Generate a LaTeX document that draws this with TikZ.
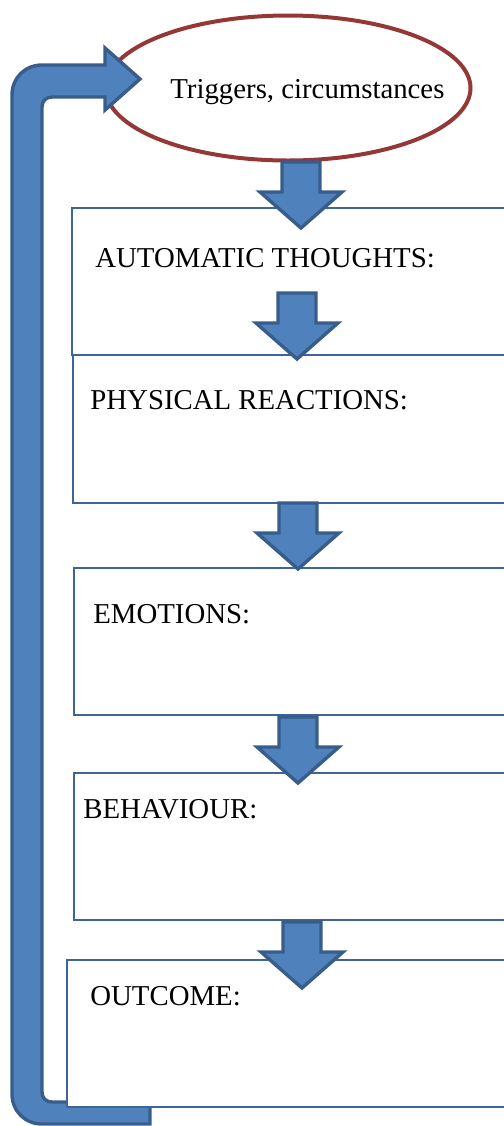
\documentclass[tikz,border=0pt]{standalone}
\usepackage{fontspec}
\setmainfont{Liberation Serif}
\usepackage{tikz}
\usetikzlibrary{shapes.geometric}

\definecolor{arrowblue}{HTML}{4F81BD}
\definecolor{arrowedge}{HTML}{385D8A}
\definecolor{boxedge}{HTML}{3F6597}
\definecolor{ovalred}{HTML}{953735}

\begin{document}
\begin{tikzpicture}[x=0.5pt, y=-0.5pt,
    box/.style={rectangle, draw=boxedge, line width=1pt, fill=white, anchor=north west,
        inner sep=0pt, outer sep=0pt, minimum width=230pt, minimum height=73.5pt},
    lbl/.style={anchor=base west, inner sep=0pt, font=\fontsize{14.4}{17}\selectfont},
    bigarrow/.style={draw=arrowedge, fill=arrowblue, line width=1.7pt, line join=miter},
    downarr/.pic={\draw[bigarrow] (-19,0) -- (19,0) -- (19,30) -- (41,30) -- (0,66)
        -- (-41,30) -- (-19,30) -- cycle;}
]
                    \path[use as bounding box, clip] (0,0) rectangle (504,1126);
                    % Oval
                    \node[ellipse, draw=ovalred, line width=2pt, fill=white, inner sep=0pt,
                        minimum width=182.5pt, minimum height=72.5pt] (oval) at (288,88) {};
                    \node[lbl] (trig) at (170,98) {Triggers, circumstances};
                    % Loop back
                    \draw[bigarrow] (150,1124) -- (42,1124) .. controls (25,1124) and (12,1111) .. (12,1094)
                        -- (12,95) .. controls (12,78) and (25,65) .. (42,65) -- (105,65) -- (105,48)
                        -- (140,79) -- (105,110) -- (105,97) -- (52,97) .. controls (46,97) and (42,101) .. (42,107)
                        -- (42,1092) .. controls (42,1098) and (46,1102) .. (52,1102) -- (150,1102) -- cycle;
                    % Boxes
                    \node[box] (thoughts) at (72,208) {};
                    \node[box, minimum height=74pt] (physical) at (73,355) {};
                    \node[box] (emotions) at (74,568) {};
                    \node[box] (behaviour) at (74,773) {};
                    \node[box] (outcome) at (67,960) {};
                    \node[lbl] (tthoughts) at (95,267) {AUTOMATIC THOUGHTS:};
                    \node[lbl] (tphysical) at (90,409) {PHYSICAL REACTIONS:};
                    \node[lbl] (temotions) at (93,623) {EMOTIONS:};
                    \node[lbl] (tbehaviour) at (83,818) {BEHAVIOUR:};
                    \node[lbl] (toutcome) at (90,1005) {OUTCOME:};
                    % Arrows
                    \pic (a1) at (301,162) {downarr};
                    \pic (a2) at (297,293) {downarr};
                    \pic (a3) at (298,503) {downarr};
                    \pic (a4) at (298,717) {downarr};
                    \pic (a5) at (302,922) {downarr};
                \end{tikzpicture}
\end{document}
